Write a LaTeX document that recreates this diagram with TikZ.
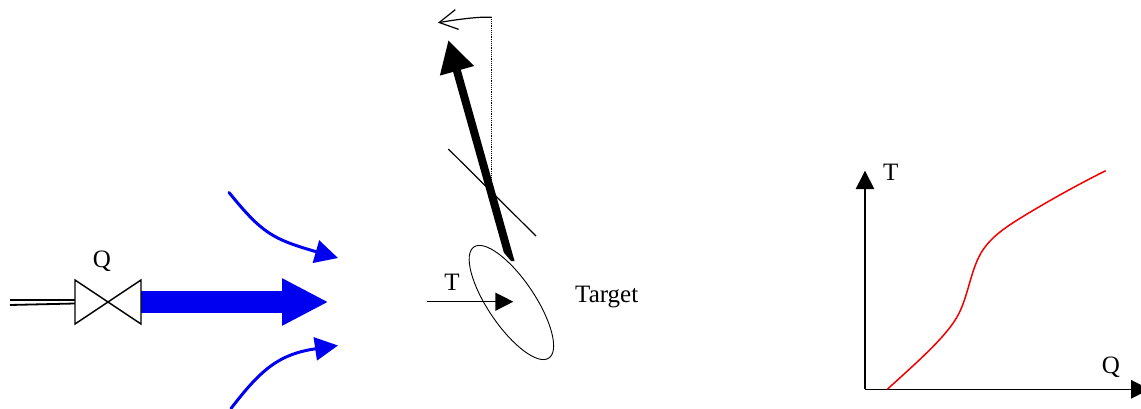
\documentclass[tikz,border=0pt]{standalone}
\usepackage{fontspec}
\setmainfont{Liberation Serif}
\usetikzlibrary{arrows.meta,shapes.geometric}
\definecolor{flowblue}{RGB}{0,0,240}
\definecolor{curvered}{RGB}{240,0,0}
\tikzset{
  x=1pt,y=-1pt,
  lbl/.style={anchor=base,inner sep=0pt,font=\fontsize{25}{29}\selectfont},
  thinline/.style={line width=1.2pt,black},
  axisarrow/.style={line width=1.5pt,-{Triangle[length=18.5pt,width=18.5pt,sep=0pt]}},
  tarrow/.style={line width=1.4pt,-{Triangle[length=18pt,width=18pt,sep=0pt]}},
  jet/.style={flowblue,line width=21.7pt,-{Triangle[length=46.5pt,width=44pt,sep=0pt]}},
  sidejet/.style={flowblue,line width=3pt,line cap=round,-{Triangle[length=23pt,width=23pt,sep=0pt]}},
  beam/.style={black,line width=8pt,-{Triangle[length=32pt,width=33pt,sep=0pt]}},
  pipe/.style={black,line width=1.8pt},
}
\begin{document}
\begin{tikzpicture}
\clip (0,0) rectangle (1141,409);
% valve
\coordinate (vtl) at (75,280);
\coordinate (vbl) at (75,324);
\coordinate (vtr) at (141,280);
\coordinate (vbr) at (141,324);
\coordinate (pipeA) at (10,300);
\coordinate (pipeB) at (10,305);
\coordinate (pipeC) at (75,300);
\coordinate (pipeD) at (75,303.5);
\coordinate (jetS) at (141,302);
\coordinate (jetE) at (328.5,302);
\draw[pipe] (pipeA) -- (pipeC);
\draw[pipe] (pipeB) -- (pipeD);
\draw[jet] (jetS) -- (jetE);
\draw[line width=1.4pt,line join=miter,fill=white] (vtl) -- (vbr) -- (vtr) -- (vbl) -- cycle;
\node[lbl] (qv) at (102,267) {Q};
% side jets
\coordinate (s1a) at (229,192.5);
\coordinate (s1b) at (338,258);
\coordinate (s2a) at (231,408.5);
\coordinate (s2b) at (338,345.5);
\draw[sidejet] (s1a) .. controls (262,233) and (272,239) .. (s1b);
\draw[sidejet] (s2a) .. controls (262,368) and (280,354) .. (s2b);
% target
\node[draw,ellipse,line width=0.9pt,inner sep=0pt,minimum width=134pt,minimum height=47pt,rotate=-56] (ell) at (511.4,302.5) {};
\node[lbl,anchor=base west] (tg) at (575,302) {Target};
\node[lbl] (tt) at (452,290) {T};
\coordinate (ta) at (426.7,301.7);
\coordinate (tb) at (513.3,301.7);
\draw[tarrow] (ta) -- (tb);
% reflected beam, its foot cut along the target's edge
\coordinate (bs) at (511.5,265);
\coordinate (be) at (448.3,40);
\begin{scope}
\clip (400,0) -- (560,0) -- (560,261) -- (511,261) -- (495,242) -- (400,242) -- cycle;
\draw[beam] (bs) -- (be);
\end{scope}
\coordinate (la) at (448.3,149);
\coordinate (lb) at (536,236);
\draw[thinline] (la) -- (lb);
\coordinate (da) at (491.7,185);
\coordinate (db) at (491.7,17.3);
\coordinate (dc) at (438,22.7);
\draw[thinline,densely dotted] (da) -- (db);
\draw[thinline,-{Straight Barb[length=18pt,width=20pt,sep=0pt]}] (db) .. controls (480,16.5) and (460,19) .. (dc);
% graph
\coordinate (o) at (865,389.3);
\coordinate (yt) at (865,170.7);
\coordinate (xt) at (1149.5,389.3);
\draw[axisarrow] (o) -- (yt);
\draw[axisarrow] (o) -- (xt);
\node[lbl] (ty) at (890.7,180) {T};
\node[lbl] (qx) at (1111,373) {Q};
\coordinate (r0) at (887.3,389.3);
\coordinate (r1) at (957,317);
\coordinate (r2) at (981,253);
\coordinate (r3) at (1020,218.3);
\coordinate (r4) at (1105.7,170.7);
\draw[curvered,line width=1.5pt] (r0) .. controls (915,364) and (945,338) .. (r1)
  .. controls (968,298) and (970,272) .. (r2)
  .. controls (990,238) and (1003,229) .. (r3)
  .. controls (1045,203) and (1075,186) .. (r4);
\end{tikzpicture}
\end{document}
